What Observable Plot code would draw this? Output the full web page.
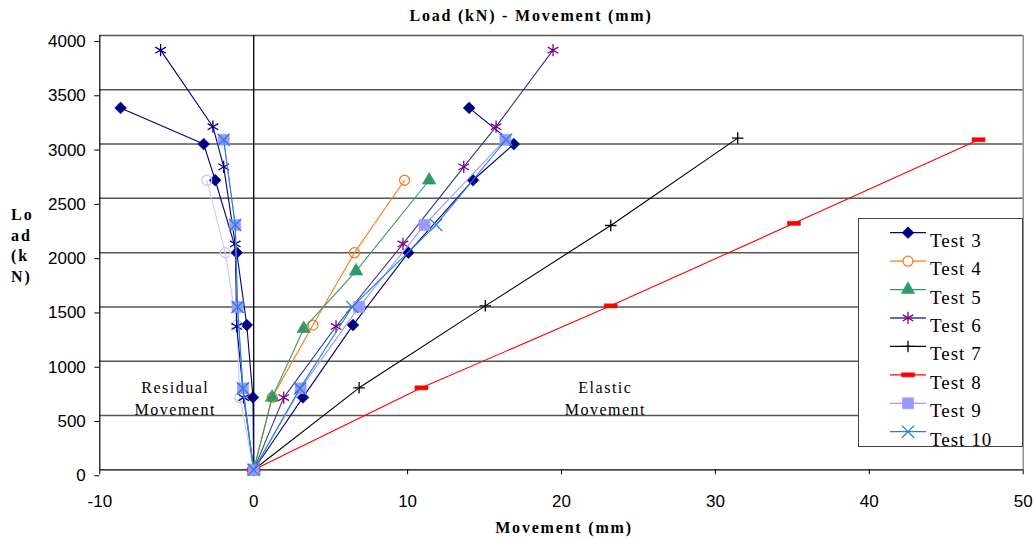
<!DOCTYPE html>
<html>
<head>
<meta charset="utf-8">
<script src="https://cdn.jsdelivr.net/npm/d3@7"></script>
<script src="https://cdn.jsdelivr.net/npm/@observablehq/plot@0.6"></script>
<style>
  body { margin: 0; background: #fff; }
  #wrap { position: relative; width: 1035px; height: 540px; overflow: hidden; background: #fff; }
  .ttl { position: absolute; font-family: "Liberation Serif", "Times New Roman", serif; font-weight: bold; font-size: 16px; letter-spacing: 1.8px; color: #000; white-space: nowrap; }
  #title { left: 331px; width: 400px; text-align: center; top: 6px; line-height: 20px; }
  #xlabel { left: 364px; width: 400px; text-align: center; top: 518px; line-height: 20px; }
  #ylabel { left: 11px; top: 205px; line-height: 20.5px; white-space: pre; letter-spacing: 2px; }
  #legend { position: absolute; left: 858px; top: 218px; overflow: visible; }
  .annot text { letter-spacing: 1.5px; }
</style>
</head>
<body>
<div id="wrap">
  <div id="title" class="ttl"></div>
  <div id="xlabel" class="ttl"></div>
  <div id="ylabel" class="ttl"></div>
</div>
<script>
// ---- data (movement in mm, load in kN) ----
const titleText = "Load (kN) - Movement (mm)";
const xLabelText = "Movement (mm)";
const yLabelLines = ["Lo", "ad", "(k", "N)"];
const xTicks = [-10, 0, 10, 20, 30, 40, 50];
const yTicks = [0, 500, 1000, 1500, 2000, 2500, 3000, 3500, 4000];

const testNames = ["Test 3", "Test 4", "Test 5", "Test 6", "Test 7", "Test 8", "Test 9", "Test 10"];

const loads3 = [0, 667, 1333, 2000, 2667, 3000, 3333];
const elastic3 = [0, 3.2, 6.45, 10.05, 14.25, 16.9, 14.0];
const residual3 = [0, -0.05, -0.45, -1.1, -2.5, -3.25, -8.65];

const loads4 = [0, 667, 1333, 2000, 2667];
const elastic4 = [0, 1.2, 3.85, 6.55, 9.8];
const residual4 = [0, -0.9, -1.1, -1.85, -3.05];

const loads5 = [0, 667, 1300, 1830, 2667];
const elastic5 = [0, 1.2, 3.25, 6.65, 11.4];

const loads6 = [0, 665, 1320, 2080, 2790, 3160, 3865];
const elastic6 = [0, 1.95, 5.35, 9.7, 13.65, 15.75, 19.45];
const residual6 = [0, -0.65, -1.1, -1.2, -1.95, -2.65, -6.05];

const loads7 = [0, 755, 1510, 2250, 3055];
const elastic7 = [0, 6.85, 15.05, 23.2, 31.45];

const loads8 = [0, 755, 1510, 2270, 3040];
const elastic8 = [0, 10.9, 23.2, 35.1, 47.1];

const loads9 = [0, 750, 1500, 2255, 3040];
const elastic9 = [0, 3.05, 6.85, 11.1, 16.35];
const residual9 = [0, -0.7, -1.05, -1.2, -1.95];

const loads10 = [0, 750, 1500, 2255, 3040];
const elastic10 = [0, 3.0, 6.4, 11.85, 16.4];
const residual10 = [0, -0.7, -1.05, -1.2, -1.95];

const annotations = [
  {x: -5.1, y: 668, text: "Residual\nMovement"},
  {x: 22.85, y: 668, text: "Elastic\nMovement"}
];

// ---- styles ----
const dash = {draw(ctx, size) { ctx.rect(-6.5, -2, 13, 4); }};
const styles = {
  "Test 3":  {line: "#000080", mark: "#000080", sym: d3.symbolDiamond2, filled: true,  r: 5.3},
  "Test 4":  {line: "#ff7a1a", mark: "#ff7a1a", sym: d3.symbolCircle,   filled: false, r: 5},
  "Test 5":  {line: "#339966", mark: "#339966", sym: d3.symbolTriangle, filled: true,  r: 5},
  "Test 6":  {line: "#333399", mark: "#800080", sym: d3.symbolAsterisk, filled: false, r: 5.8},
  "Test 7":  {line: "#000000", mark: "#000000", sym: d3.symbolPlus,     filled: false, r: 3.8},
  "Test 8":  {line: "#ff0000", mark: "#ff0000", sym: dash,              filled: true,  r: 4},
  "Test 9":  {line: "#9999ff", mark: "#9999ff", sym: d3.symbolSquare,   filled: true,  r: 6.2},
  "Test 10": {line: "#2a7fd4", mark: "#2a7fd4", sym: d3.symbolTimes,    filled: false, r: 5.6}
};
const residualStyles = {
  "Test 3":  {line: "#000080", mark: "#000080"},
  "Test 4":  {line: "#c8c8ff", mark: "#c8c8ff"},
  "Test 6":  {line: "#000080", mark: "#000080"},
  "Test 9":  {line: "#9999ff", mark: "#9999ff"},
  "Test 10": {line: "#2a7fd4", mark: "#2a7fd4"}
};

const rows = (move, load) => move.map((m, i) => ({x: m, y: load[i]}));
const residualSeries = [
  {name: "Test 3", data: rows(residual3, loads3)},
  {name: "Test 4", data: rows(residual4, loads4)},
  {name: "Test 6", data: rows(residual6, loads6)},
  {name: "Test 9", data: rows(residual9, loads9)},
  {name: "Test 10", data: rows(residual10, loads10)}
];
const elasticSeries = [
  {name: "Test 3", data: rows(elastic3, loads3)},
  {name: "Test 4", data: rows(elastic4, loads4)},
  {name: "Test 5", data: rows(elastic5, loads5)},
  {name: "Test 6", data: rows(elastic6, loads6)},
  {name: "Test 7", data: rows(elastic7, loads7)},
  {name: "Test 8", data: rows(elastic8, loads8)},
  {name: "Test 9", data: rows(elastic9, loads9)},
  {name: "Test 10", data: rows(elastic10, loads10)}
];

function seriesMarks(s, lineColor, markColor) {
  const st = styles[s.name];
  return [
    Plot.line(s.data, {x: "x", y: "y", stroke: lineColor, strokeWidth: 1.1}),
    Plot.dot(s.data, {
      x: "x", y: "y", symbol: st.sym, r: st.r,
      fill: st.filled ? markColor : "none",
      stroke: markColor, strokeWidth: st.filled ? 0.6 : 1.3
    })
  ];
}

const marks = [
  Plot.ruleY(yTicks.filter(d => d > 0), {stroke: "#555", strokeWidth: 1.5}),
  Plot.ruleX([50], {stroke: "#777", strokeWidth: 1.2}),
  Plot.ruleX([0], {stroke: "#000", strokeWidth: 1.3}),
  Plot.ruleX([-10], {stroke: "#000", strokeWidth: 1.2}),
  Plot.ruleY([0], {stroke: "#000", strokeWidth: 1.3}),
  Plot.axisX({ticks: xTicks, tickSize: 5, tickPadding: 20, tickFormat: d => String(d), fontSize: 17, label: null}),
  Plot.axisY({ticks: yTicks, tickSize: 5, tickPadding: 9, dy: 6, tickFormat: d => String(d), fontSize: 17, label: null}),
  Plot.text(annotations, {
    x: "x", y: "y", text: "text", fontSize: 16, lineHeight: 1.35,
    fontFamily: "Liberation Serif, Times New Roman, serif", fill: "#000", className: "annot"
  })
];
for (const s of residualSeries) {
  const rs = residualStyles[s.name];
  marks.push(...seriesMarks(s, rs.line, rs.mark));
}
for (const s of elasticSeries) {
  const st = styles[s.name];
  marks.push(...seriesMarks(s, st.line, st.mark));
}

const chart = Plot.plot({
  width: 1035,
  height: 540,
  marginLeft: 99.3,
  marginRight: 12.3,
  marginTop: 35,
  marginBottom: 70.7,
  x: {domain: [-10, 50]},
  y: {domain: [0, 4000]},
  style: {fontFamily: "Liberation Sans, Arial, sans-serif", fontSize: "17px", color: "#000", background: "#fff"},
  marks
});
const wrap = document.getElementById("wrap");
wrap.insertBefore(chart, wrap.firstChild);

document.getElementById("title").textContent = titleText;
document.getElementById("xlabel").textContent = xLabelText;
document.getElementById("ylabel").textContent = yLabelLines.join("\n");

// ---- legend ----
const lw = 165, lh = 229, rowGap = 28.43, firstY = 14.7;
const leg = d3.select(wrap).append("svg")
  .attr("id", "legend").attr("width", lw).attr("height", lh + 12);
leg.append("rect").attr("x", 0.5).attr("y", 0.5).attr("width", lw - 1).attr("height", lh - 1)
  .attr("fill", "#fff").attr("stroke", "#444").attr("stroke-width", 1);
testNames.forEach((name, i) => {
  const st = styles[name];
  const y = firstY + i * rowGap;
  const g = leg.append("g");
  g.append("line").attr("x1", 32).attr("x2", 68).attr("y1", y).attr("y2", y)
    .attr("stroke", st.line).attr("stroke-width", 1.3);
  g.append("path")
    .attr("transform", `translate(50,${y})`)
    .attr("d", d3.symbol().type(st.sym).size(Math.PI * st.r * st.r)())
    .attr("fill", st.filled ? st.mark : (st.sym === d3.symbolCircle ? "#fff" : "none"))
    .attr("stroke", st.mark).attr("stroke-width", st.filled ? 0.6 : 1.3);
  g.append("text").attr("x", 72).attr("y", y + 14)
    .attr("font-family", "Liberation Serif, Times New Roman, serif")
    .attr("font-size", 19).attr("letter-spacing", "1px").attr("fill", "#000")
    .text(name);
});
</script>
</body>
</html>
